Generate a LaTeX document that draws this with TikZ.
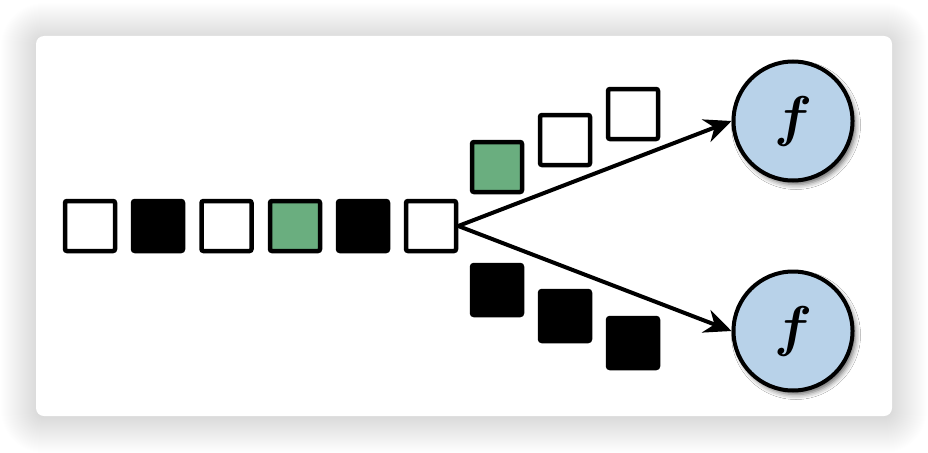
\documentclass[tikz,border=0pt]{standalone}
\usetikzlibrary{arrows.meta,shadows.blur}
\definecolor{sqgreen}{HTML}{6AAE7F}
\definecolor{fblue}{HTML}{B8D2E9}
\begin{document}
\begin{tikzpicture}[x=1pt,y=-1pt,
  sq/.style={draw=black,line width=4.5pt,minimum size=50pt,inner sep=0pt,rounded corners=2pt,fill=white},
  sqb/.style={sq,fill=black},
  sqg/.style={sq,fill=sqgreen},
  fcirc/.style={circle,draw=black,line width=4pt,fill=fblue,minimum size=119pt,inner sep=0pt,
    blur shadow={shadow xshift=3pt,shadow yshift=-4pt,shadow blur radius=5pt,shadow opacity=60}},
  arr/.style={line width=4pt,-{Stealth[length=27pt,width=24pt]}}]
\useasboundingbox (0,0) rectangle (928,452);
\fill[white] (0,0) rectangle (928,452);
\foreach \i in {0,...,35} {
  \fill[black,opacity=0.0045,rounded corners={8+\i}] (36-\i,38-\i) rectangle (892+\i,418+\i);
}
\fill[rounded corners=8pt,white] (36,36) rectangle (892,416);
% row
\node[sq]  (r1) at (90,226) {};
\node[sqb] (r2) at (158,226) {};
\node[sq]  (r3) at (226.5,226) {};
\node[sqg] (r4) at (295,226) {};
\node[sqb] (r5) at (363,226) {};
\node[sq]  (r6) at (431,226) {};
% upper
\node[sqg] (u1) at (497,167) {};
\node[sq]  (u2) at (565,140) {};
\node[sq]  (u3) at (633,114) {};
% lower
\node[sqb] (l1) at (497,290) {};
\node[sqb] (l2) at (565,316) {};
\node[sqb] (l3) at (633,343) {};
% functions
\node[fcirc] (f1) at (793,121) {\scalebox{5.6}{\boldmath$f$}};
\node[fcirc] (f2) at (793,331) {\scalebox{5.6}{\boldmath$f$}};
\draw[arr] (r6.east) -- (f1.west);
\draw[arr] (r6.east) -- (f2.west);
\end{tikzpicture}
\end{document}
